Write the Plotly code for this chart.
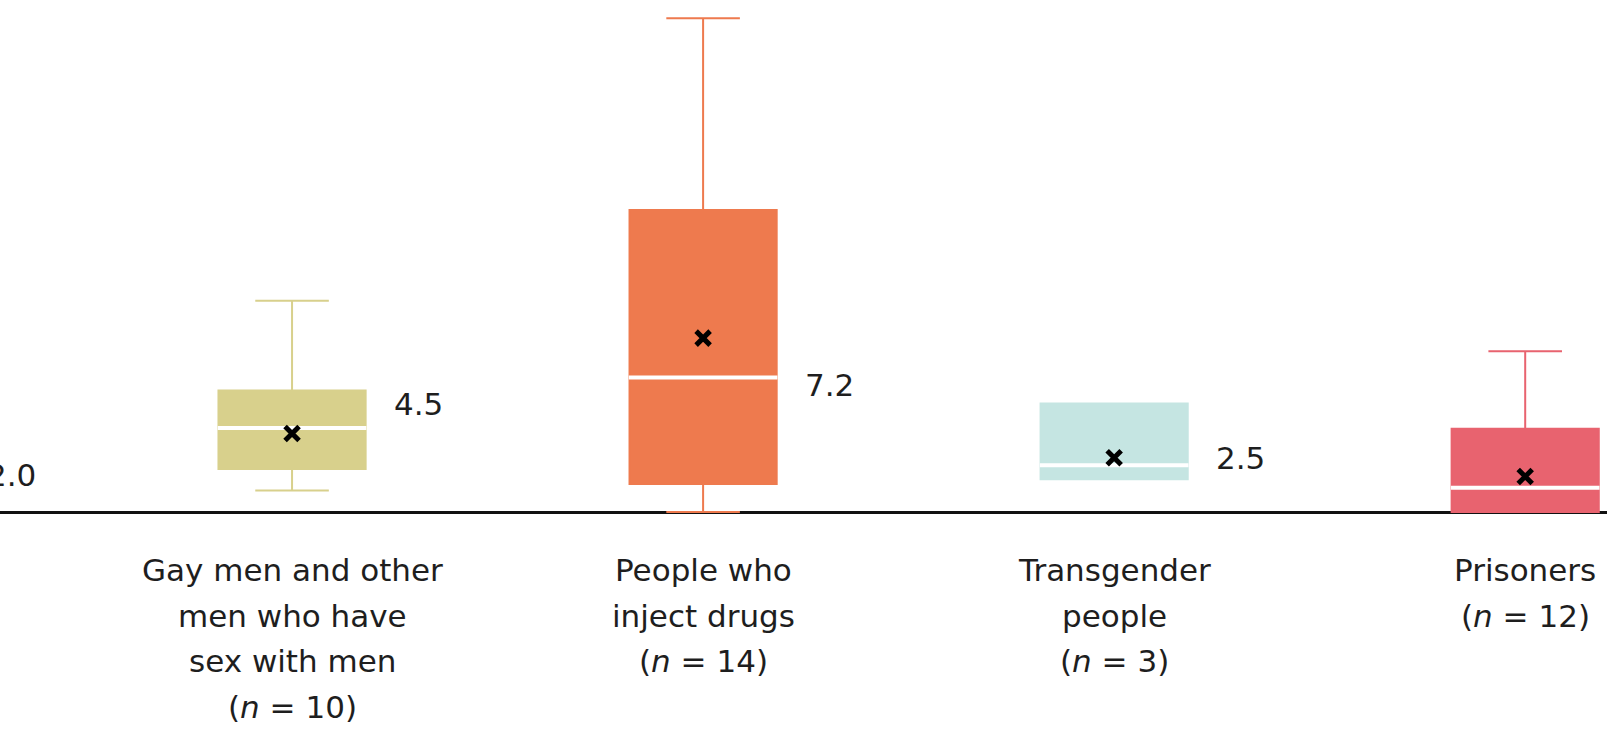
import plotly.graph_objects as go

# ---- data -------------------------------------------------------------
groups = [
    "Gay men and other<br>men who have<br>sex with men",
    "People who<br>inject drugs",
    "Transgender<br>people",
    "Prisoners",
]
n_studies = [10, 14, 3, 12]

lower_fence = [1.15, 0.0, 1.75, 0.0]
q1 = [2.3, 1.5, 1.75, 0.0]
median = [4.5, 7.2, 2.5, 1.3]
q3 = [6.5, 16.15, 5.8, 4.45]
upper_fence = [11.3, 26.4, 5.8, 8.6]
mean = [4.2, 9.3, 2.9, 1.9]

# median of the group just left of the visible window
left_group_median = 2.0

colors = ["#D8D08C", "#EE7A4E", "#C5E5E2", "#E8636F"]

# ---- layout constants -------------------------------------------------
X_RANGE = [-0.7105, 3.199]
Y_RANGE = [-11.6, 27.38]
BOX_WIDTH = 0.358
FONT = "DejaVu Sans"
FONT_SIZE = 31
TEXT_COLOR = "#1e1e1e"
VALUE_NUDGE = [24, -8, 7]          # vertical nudge of the median labels (px)
FIRST_LINE_SHIFT = -58             # first category-label line below the axis (px)
LINE_GAP = 45.5

positions = list(range(len(groups)))

fig = go.Figure()

for i, pos in enumerate(positions):
    fig.add_trace(go.Box(
        x=[pos],
        q1=[q1[i]], median=[median[i]], q3=[q3[i]],
        lowerfence=[lower_fence[i]], upperfence=[upper_fence[i]],
        fillcolor=colors[i],
        line=dict(color=colors[i], width=2),
        width=BOX_WIDTH,
        whiskerwidth=0.5,
        boxpoints=False,
        hoverinfo="skip",
        showlegend=False,
    ))
    # white median bar across the box
    half = BOX_WIDTH * 1.01 / 2
    fig.add_trace(go.Scatter(
        x=[pos - half, pos + half], y=[median[i], median[i]],
        mode="lines", line=dict(color="white", width=4),
        hoverinfo="skip", showlegend=False,
    ))

# mean markers
fig.add_trace(go.Scatter(
    x=positions, y=mean, mode="markers",
    marker=dict(symbol="x-thin", size=14, color="black",
                line=dict(color="black", width=5)),
    hoverinfo="skip", showlegend=False,
))

annotations = []

# median value labels to the right of each box
for i, pos in enumerate(positions[:len(VALUE_NUDGE)]):
    annotations.append(dict(
        x=pos, y=median[i], xref="x", yref="y",
        text=f"{median[i]:.1f}", showarrow=False,
        xanchor="left", yanchor="middle",
        xshift=100, yshift=VALUE_NUDGE[i],
        font=dict(family=FONT, size=FONT_SIZE, color=TEXT_COLOR),
    ))

# label of the group cut off at the left edge
span = X_RANGE[1] - X_RANGE[0]
annotations.append(dict(
    x=(-1 - X_RANGE[0]) / span, y=left_group_median, xref="paper", yref="y",
    text=f"{left_group_median:.1f}", showarrow=False,
    xanchor="left", yanchor="middle", xshift=104,
    font=dict(family=FONT, size=FONT_SIZE, color=TEXT_COLOR),
))

# category labels under the axis, one annotation per line
for i, pos in enumerate(positions):
    lines = groups[i].split("<br>") + [f"(<i>n</i> = {n_studies[i]})"]
    for j, line in enumerate(lines):
        annotations.append(dict(
            x=pos, y=0, xref="x", yref="y",
            text=line, showarrow=False,
            xanchor="center", yanchor="middle",
            yshift=FIRST_LINE_SHIFT - j * LINE_GAP,
            font=dict(family=FONT, size=FONT_SIZE, color=TEXT_COLOR),
        ))

fig.update_layout(
    width=1607, height=729,
    margin=dict(l=0, r=0, t=0, b=0),
    paper_bgcolor="white", plot_bgcolor="white",
    annotations=annotations,
    xaxis=dict(range=X_RANGE, showgrid=False, zeroline=False,
               showticklabels=False, showline=False, fixedrange=True),
    yaxis=dict(range=Y_RANGE, showgrid=False, showticklabels=False,
               showline=False, zeroline=True, zerolinecolor="#111111",
               zerolinewidth=3, fixedrange=True),
)

fig.write_html("out.html")
